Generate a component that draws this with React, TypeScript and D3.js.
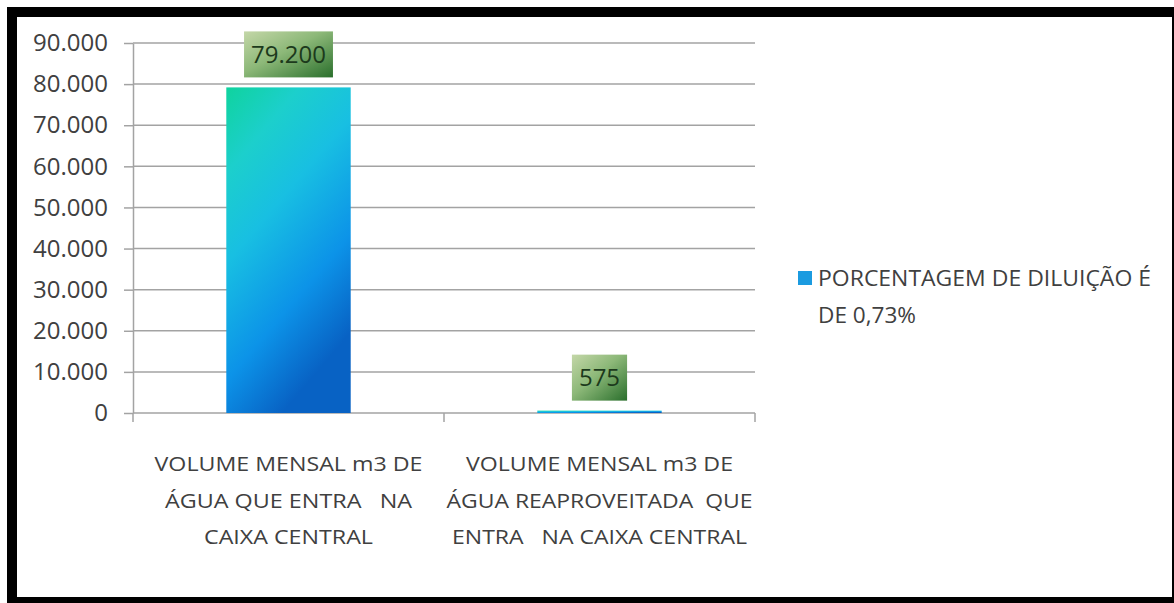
import { useEffect, useRef } from 'react';
import * as d3 from 'd3';

// chart data
const categories = ['entrada', 'reaproveitada'];
const categoryLines = [
  ['VOLUME MENSAL m3 DE', 'ÁGUA QUE ENTRA   NA', 'CAIXA CENTRAL'],
  ['VOLUME MENSAL m3 DE', 'ÁGUA REAPROVEITADA  QUE', 'ENTRA   NA CAIXA CENTRAL'],
];
const values = [79200, 575];
const yTicks = [0, 10000, 20000, 30000, 40000, 50000, 60000, 70000, 80000, 90000];
const legendLines = ['PORCENTAGEM DE DILUIÇÃO É', 'DE 0,73%'];

// widths the labels are stretched to (the source used a wide font)
const categoryLineWidths = [
  [268, 247, 169],
  [267, 306, 295],
];
const legendLineWidths = [333, 98];

const ptBR = d3.formatLocale({ decimal: ',', thousands: '.', grouping: [3], currency: ['R$', ''] });
const fmt = ptBR.format(',');

const App = () => {
  const svgRef = useRef<SVGSVGElement>(null);

  useEffect(() => {
    if (!svgRef.current) return;
    const svg = d3.select(svgRef.current);
    svg.selectAll('*').remove();

    const width = 1174;
    const height = 603;
    const plot = { left: 133, right: 755, top: 43, bottom: 413 };
    const font = '"Open Sans", sans-serif';
    const textColor = '#404040';

    svg.attr('width', width).attr('height', height);

    // frame
    svg.append('rect').attr('x', 7).attr('y', 7).attr('width', 1167).attr('height', 596).attr('fill', '#000');
    svg.append('rect').attr('x', 17).attr('y', 17).attr('width', 1155).attr('height', 580).attr('fill', '#fff');

    const defs = svg.append('defs');
    const barGrad = defs
      .append('linearGradient')
      .attr('id', 'bar-grad')
      .attr('x1', '0')
      .attr('y1', '0')
      .attr('x2', '0.45')
      .attr('y2', '1');
    [
      ['0%', '#0fd39e'],
      ['22%', '#1ccfcc'],
      ['45%', '#18bfe2'],
      ['75%', '#0c93e8'],
      ['100%', '#0862c4'],
    ].forEach(([o, c]) => barGrad.append('stop').attr('offset', o).attr('stop-color', c));

    const boxGrad = defs
      .append('linearGradient')
      .attr('id', 'box-grad')
      .attr('x1', '0')
      .attr('y1', '0')
      .attr('x2', '1')
      .attr('y2', '1');
    [
      ['0%', '#c4d7a8'],
      ['45%', '#8cb878'],
      ['100%', '#2a6f2c'],
    ].forEach(([o, c]) => boxGrad.append('stop').attr('offset', o).attr('stop-color', c));

    const y = d3.scaleLinear().domain([0, 90000]).range([plot.bottom, plot.top]);
    const x = d3
      .scaleBand<string>()
      .domain(categories)
      .range([plot.left, plot.right])
      .paddingInner(0.6)
      .paddingOuter(0.3);

    // gridlines
    svg
      .append('g')
      .selectAll('line')
      .data(yTicks)
      .join('line')
      .attr('x1', plot.left)
      .attr('x2', plot.right)
      .attr('y1', (d) => y(d))
      .attr('y2', (d) => y(d))
      .attr('stroke', '#a3a3a3')
      .attr('stroke-width', 1.5);

    // y axis
    const yAxis = svg
      .append('g')
      .attr('transform', `translate(${plot.left},0)`)
      .call(
        d3
          .axisLeft(y)
          .tickValues(yTicks)
          .tickFormat((d) => fmt(d as number))
          .tickSizeInner(9)
          .tickSizeOuter(0)
          .tickPadding(16)
      );
    yAxis.select('.domain').attr('stroke', '#a3a3a3').attr('stroke-width', 1.5);
    yAxis.selectAll('.tick line').attr('stroke', '#a3a3a3').attr('stroke-width', 1.5);
    yAxis
      .selectAll('.tick text')
      .attr('font-family', font)
      .attr('font-size', 24)
      .attr('fill', textColor);

    // category ticks
    const step = x.step();
    svg
      .append('g')
      .selectAll('line')
      .data(d3.range(categories.length + 1))
      .join('line')
      .attr('x1', (i) => plot.left + i * step)
      .attr('x2', (i) => plot.left + i * step)
      .attr('y1', plot.bottom)
      .attr('y2', plot.bottom + 9)
      .attr('stroke', '#a3a3a3')
      .attr('stroke-width', 1.5);

    // bars
    svg
      .append('g')
      .selectAll('rect')
      .data(values)
      .join('rect')
      .attr('x', (_, i) => x(categories[i])!)
      .attr('y', (d) => y(d))
      .attr('width', x.bandwidth())
      .attr('height', (d) => y(0) - y(d))
      .attr('fill', 'url(#bar-grad)');

    // data labels
    values.forEach((v, i) => {
      const cx = x(categories[i])! + x.bandwidth() / 2;
      const boxH = 46;
      const boxBottom = y(v) - 10;
      const g = svg.append('g');
      const rect = g.append('rect').attr('fill', 'url(#box-grad)');
      const t = g
        .append('text')
        .attr('x', cx)
        .attr('y', boxBottom - boxH / 2)
        .attr('dy', '0.35em')
        .attr('text-anchor', 'middle')
        .attr('font-family', font)
        .attr('font-size', 24)
        .attr('fill', '#1c3a1c')
        .text(fmt(v));
      const tw = (t.node() as SVGTextElement).getComputedTextLength();
      rect
        .attr('x', cx - tw / 2 - 7)
        .attr('y', boxBottom - boxH)
        .attr('width', tw + 14)
        .attr('height', boxH);
    });

    // category labels
    categories.forEach((c, i) => {
      const cx = x(c)! + x.bandwidth() / 2;
      categoryLines[i].forEach((line, j) => {
        svg
          .append('text')
          .attr('x', cx)
          .attr('y', 471 + j * 36.5)
          .attr('text-anchor', 'middle')
          .attr('font-family', font)
          .attr('font-size', 20)
          .attr('fill', textColor)
          .attr('textLength', categoryLineWidths[i][j])
          .attr('lengthAdjust', 'spacingAndGlyphs')
          .style('white-space', 'pre')
          .text(line);
      });
    });

    // legend
    const legend = svg.append('g').attr('transform', 'translate(798,271)');
    legend.append('rect').attr('width', 14).attr('height', 14).attr('fill', '#1b9be0');
    legendLines.forEach((line, j) => {
      legend
        .append('text')
        .attr('x', 20)
        .attr('y', 15 + j * 37)
        .attr('font-family', font)
        .attr('font-size', 21)
        .attr('fill', textColor)
        .attr('textLength', legendLineWidths[j])
        .attr('lengthAdjust', 'spacingAndGlyphs')
        .text(line);
    });
  }, []);

  return (
    <div style={{ position: 'absolute', left: 0, top: 0 }}>
      <svg ref={svgRef} style={{ display: 'block' }} />
    </div>
  );
};

export default App;
